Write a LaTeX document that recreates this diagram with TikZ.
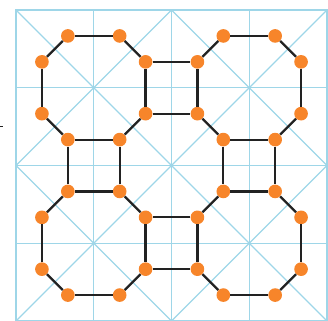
\documentclass[tikz,border=0pt]{standalone}
\usepackage{xcolor}
\usepackage{tikz}
\definecolor{gridblue}{HTML}{9ED6E8}
\definecolor{dotorange}{HTML}{F7852A}
\definecolor{edgeblack}{HTML}{222222}

\begin{document}
\begin{tikzpicture}[x=2cm, y=-2cm,
    guide/.style={draw=gridblue, line width=0.9pt},
    vertex/.style={circle, fill=dotorange, inner sep=0pt, minimum size=10pt},
    edge/.style={draw=edgeblack, line width=1.6pt}]
  \useasboundingbox (-0.206,-0.129) rectangle (4.013,4.0);
  % light guide lines
  \draw[guide] (0,0) rectangle (4,4);
  \foreach \i in {1,2,3} {
    \draw[guide] (\i,0) -- (\i,4);
    \draw[guide] (0,\i) -- (4,\i);
  }
  \draw[guide] (0,0) -- (4,4) (4,0) -- (0,4);
  \draw[guide] (2,0) -- (4,2) -- (2,4) -- (0,2) -- cycle;
  % corner octagons, dots first
  \foreach \oct/\cx/\cy in {tl/1/1, tr/3/1, bl/1/3, br/3/3} {
    \foreach \k/\dx/\dy in {1/-1/-2, 2/1/-2, 3/2/-1, 4/2/1, 5/1/2, 6/-1/2, 7/-2/1, 8/-2/-1}
      \node[vertex] (\oct-\k) at ({\cx+(\dx)/3}, {\cy+(\dy)/3}) {};
    \foreach \a/\b in {1/2, 2/3, 3/4, 4/5, 5/6, 6/7, 7/8, 8/1}
      \draw[edge] (\oct-\a) -- (\oct-\b);
  }
  % edges closing the squares and the middle octagon
  \foreach \a/\b in {tl-3/tr-8, tl-4/tr-7, bl-3/br-8, bl-4/br-7,
                     tl-6/bl-1, tl-5/bl-2, tr-6/br-1, tr-5/br-2}
    \draw[edge] (\a) -- (\b);
  % small mark on the left
  \draw[edgeblack, line width=0.7pt] (-0.206,1.5) -- (-0.165,1.5);
\end{tikzpicture}
\end{document}
